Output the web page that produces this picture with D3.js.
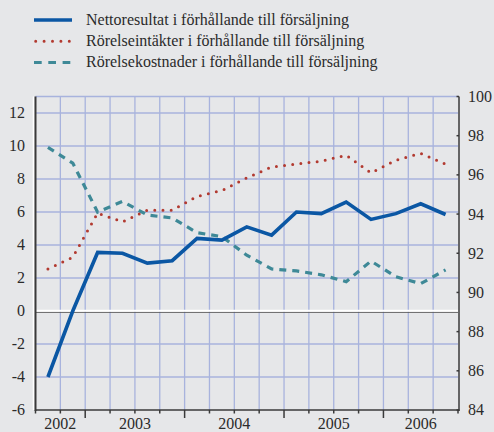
<!DOCTYPE html>
<html>
<head>
<meta charset="utf-8">
<script src="https://cdn.jsdelivr.net/npm/d3@7/dist/d3.min.js"></script>
<style>
    body { margin: 0; background: #e6e7e9; }
    svg { display: block; }
</style>
</head>
<body>
<div id="chart"></div>
<script>
// quarters from 2002 Q3 to 2006 Q3
let quarters = ["2002K3", "2002K4",
    "2003K1", "2003K2", "2003K3", "2003K4",
    "2004K1", "2004K2", "2004K3", "2004K4",
    "2005K1", "2005K2", "2005K3", "2005K4",
    "2006K1", "2006K2", "2006K3"];

// year labels, with first and last quarter index covered
let years = [
    {label: "2002", from: 0, to: 2},
    {label: "2003", from: 2, to: 6},
    {label: "2004", from: 6, to: 10},
    {label: "2005", from: 10, to: 14},
    {label: "2006", from: 14, to: 17}
];

// left axis (procent)
let nettoresultat = [-4.0, 0.0, 3.55, 3.5, 2.9, 3.05, 4.4, 4.3, 5.1, 4.6, 6.0, 5.9, 6.6, 5.55, 5.9, 6.5, 5.85];
// right axis (procent)
let intakter = [91.2, 91.8, 94.05, 93.6, 94.2, 94.2, 94.9, 95.2, 95.85, 96.4, 96.55, 96.7, 97.0, 96.1, 96.75, 97.1, 96.55];
let kostnader = [97.4, 96.6, 94.1, 94.65, 93.95, 93.8, 93.05, 92.85, 91.9, 91.2, 91.1, 90.9, 90.55, 91.6, 90.8, 90.45, 91.15];

let leftTicks = [-6, -4, -2, 0, 2, 4, 6, 8, 10, 12];
let rightTicks = [84, 86, 88, 90, 92, 94, 96, 98, 100];

let legendLabels = [
    "Nettoresultat i förhållande till försäljning",
    "Rörelseintäkter i förhållande till försäljning",
    "Rörelsekostnader i förhållande till försäljning"
];

let config = {
    width: 494,
    height: 432,
    left: 35.5,
    right: 458,
    top: 96.5,
    bottom: 410,
    font: "'Liberation Serif', 'DejaVu Serif', 'Noto Serif', 'Nimbus Roman', FreeSerif, Times, serif",
    text: "#2b2b2b",
    grid: "#a8b3dd",
    axis: "#3a3a3a",
    blue: "#0b57a4",
    red: "#b23a30",
    teal: "#3e8997"
};

let svg = d3.select("#chart")
    .append("svg")
    .attr("width", config.width)
    .attr("height", config.height)
    .attr("font-family", config.font)
    .attr("fill", config.text);

let x = d3.scaleLinear()
    .domain([0, quarters.length])
    .range([config.left, config.right]);

let yLeft = d3.scaleLinear()
    .domain([-6, 13])
    .range([config.bottom, config.top]);

let yRight = d3.scaleLinear()
    .domain([84, 100])
    .range([config.bottom, config.top]);

// grid
let grid = svg.append("g");
grid.selectAll("line.v")
    .data(d3.range(1, quarters.length))
    .enter().append("line")
    .attr("x1", (d) => x(d))
    .attr("x2", (d) => x(d))
    .attr("y1", config.top)
    .attr("y2", config.bottom)
    .attr("stroke", config.grid)
    .attr("stroke-width", 1.3);

grid.selectAll("line.h")
    .data(leftTicks.filter((d) => d !== 0 && d !== -6).concat([13]))
    .enter().append("line")
    .attr("x1", config.left)
    .attr("x2", config.right)
    .attr("y1", (d) => yLeft(d))
    .attr("y2", (d) => yLeft(d))
    .attr("stroke", config.grid)
    .attr("stroke-width", 1.3);

// zero line
svg.append("line")
    .attr("x1", config.left).attr("x2", config.right)
    .attr("y1", yLeft(0) + 1.3).attr("y2", yLeft(0) + 1.3)
    .attr("stroke", "#555").attr("stroke-width", 1);
svg.append("line")
    .attr("x1", config.left).attr("x2", config.right)
    .attr("y1", yLeft(0) - 0.2).attr("y2", yLeft(0) - 0.2)
    .attr("stroke", "#fff").attr("stroke-width", 2);

// left axis
svg.append("line")
    .attr("x1", config.left - 2).attr("x2", config.left - 2)
    .attr("y1", config.top).attr("y2", config.bottom)
    .attr("stroke", "#fff").attr("stroke-width", 1.5);
svg.append("line")
    .attr("x1", config.left).attr("x2", config.left)
    .attr("y1", config.top).attr("y2", config.bottom + 1)
    .attr("stroke", config.axis).attr("stroke-width", 2);

svg.append("g").selectAll("text")
    .data(leftTicks)
    .enter().append("text")
    .attr("x", 25)
    .attr("y", (d) => yLeft(d))
    .attr("dy", "0.34em")
    .attr("text-anchor", "end")
    .attr("font-size", 16)
    .text((d) => d);

// right axis
svg.append("line")
    .attr("x1", config.right + 1).attr("x2", config.right + 1)
    .attr("y1", yRight(100)).attr("y2", config.bottom + 1)
    .attr("stroke", config.axis).attr("stroke-width", 1.5);

svg.append("g").selectAll("line")
    .data(rightTicks)
    .enter().append("line")
    .attr("x1", config.right - 1.5)
    .attr("x2", config.right + 1)
    .attr("y1", (d) => yRight(d))
    .attr("y2", (d) => yRight(d))
    .attr("stroke", config.axis)
    .attr("stroke-width", 1.5);

svg.append("g").selectAll("text")
    .data(rightTicks)
    .enter().append("text")
    .attr("x", 468)
    .attr("y", (d) => yRight(d))
    .attr("dy", "0.34em")
    .attr("font-size", 16)
    .text((d) => d);

// bottom axis
svg.append("line")
    .attr("x1", config.left).attr("x2", config.right + 1.5)
    .attr("y1", config.bottom).attr("y2", config.bottom)
    .attr("stroke", config.axis).attr("stroke-width", 1.5);

let yearStarts = years.map((d) => d.from);
svg.append("g").selectAll("line")
    .data(d3.range(0, quarters.length + 1))
    .enter().append("line")
    .attr("x1", (d) => x(d))
    .attr("x2", (d) => x(d))
    .attr("y1", config.bottom)
    .attr("y2", (d) => (yearStarts.indexOf(d) > 0) ? config.bottom + 8 : config.bottom + 3.5)
    .attr("stroke", config.axis)
    .attr("stroke-width", 1.5);

svg.append("g").selectAll("text")
    .data(years)
    .enter().append("text")
    .attr("x", (d) => x((d.from + d.to) / 2))
    .attr("y", 428.5)
    .attr("text-anchor", "middle")
    .attr("font-size", 16)
    .text((d) => d.label);

// series
let lineLeft = d3.line()
    .x((d, i) => x(i + 0.5))
    .y((d) => yLeft(d));
let lineRight = d3.line()
    .x((d, i) => x(i + 0.5))
    .y((d) => yRight(d));

svg.append("path")
    .datum(kostnader)
    .attr("d", lineRight)
    .attr("fill", "none")
    .attr("stroke", config.teal)
    .attr("stroke-width", 3.2)
    .attr("stroke-dasharray", "7 6");

svg.append("path")
    .datum(intakter)
    .attr("d", lineRight)
    .attr("fill", "none")
    .attr("stroke", config.red)
    .attr("stroke-width", 3)
    .attr("stroke-linecap", "round")
    .attr("stroke-dasharray", "0 8.2");

svg.append("path")
    .datum(nettoresultat)
    .attr("d", lineLeft)
    .attr("fill", "none")
    .attr("stroke", config.blue)
    .attr("stroke-width", 3.6)
    .attr("stroke-linejoin", "miter");

// legend
let legendStyles = [
    {color: config.blue, width: 3.6, dash: null, cap: "butt"},
    {color: config.red, width: 3, dash: "0 8.4", cap: "round"},
    {color: config.teal, width: 3, dash: "7.7 6.6", cap: "butt"}
];

let legend = svg.append("g")
    .selectAll("g")
    .data(legendLabels)
    .enter().append("g")
    .attr("transform", (d, i) => `translate(0, ${20 + i * 21.3})`);

legend.append("line")
    .attr("x1", (d, i) => i === 1 ? 35.7 : 34)
    .attr("x2", 72)
    .attr("y1", 0).attr("y2", 0)
    .attr("stroke", (d, i) => legendStyles[i].color)
    .attr("stroke-width", (d, i) => legendStyles[i].width)
    .attr("stroke-linecap", (d, i) => legendStyles[i].cap)
    .attr("stroke-dasharray", (d, i) => legendStyles[i].dash);

legend.append("text")
    .attr("x", 86)
    .attr("y", 0)
    .attr("dy", "0.3em")
    .attr("font-size", 16)
    .text((d) => d);
</script>
</body>
</html>
